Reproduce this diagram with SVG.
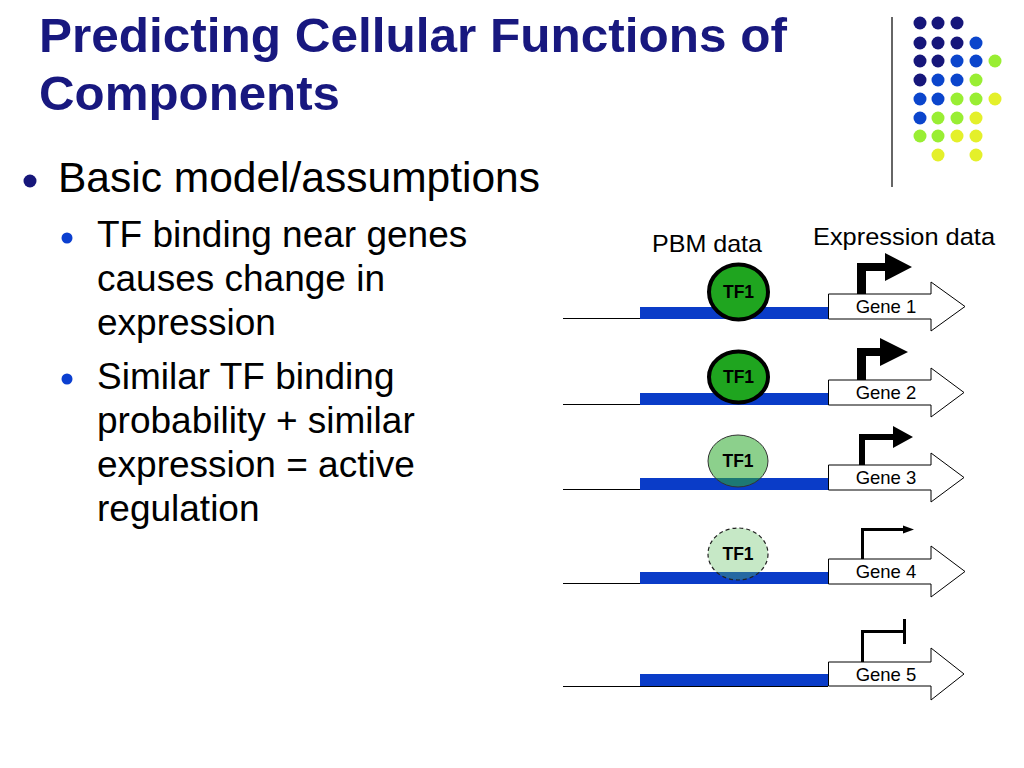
<svg xmlns="http://www.w3.org/2000/svg" width="1024" height="768" viewBox="0 0 1024 768">
<defs>
<style>
.title{font-family:"Liberation Sans",Arial,sans-serif;font-weight:bold;font-size:49px;fill:#18187F}
.body{font-family:"Liberation Sans",Arial,sans-serif;font-size:42px;fill:#000}
.sub{font-family:"Liberation Sans",Arial,sans-serif;font-size:37px;fill:#000}
.lbl{font-family:"Liberation Sans",Arial,sans-serif;font-size:24px;fill:#000}
.gene{font-family:"Liberation Sans",Arial,sans-serif;font-size:18.5px;fill:#000;text-anchor:middle}
.tf{font-family:"Liberation Sans",Arial,sans-serif;font-size:17.5px;font-weight:bold;fill:#000;text-anchor:middle}
.dna{stroke:#000;stroke-width:1}
.bar{fill:#0A3CC8}
.garrow{fill:#fff;stroke:#000;stroke-width:1}
.n{fill:#16167A}.b{fill:#0B45CC}.g{fill:#99EE33}.y{fill:#E4F02A}
</style>
</defs>
<rect width="1024" height="768" fill="#fff"/>

<!-- decoration -->
<line x1="892" y1="17" x2="892" y2="187" stroke="#333" stroke-width="1.5"/>
<g id="dots">
<circle class="n" cx="920" cy="23" r="6.5"/><circle class="n" cx="938" cy="23" r="6.5"/><circle class="n" cx="957" cy="23" r="6.5"/>
<circle class="n" cx="920" cy="43" r="6.5"/><circle class="n" cx="938" cy="43" r="6.5"/><circle class="n" cx="957" cy="43" r="6.5"/><circle class="b" cx="976" cy="43" r="6.5"/>
<circle class="n" cx="920" cy="61" r="6.5"/><circle class="n" cx="938" cy="61" r="6.5"/><circle class="b" cx="957" cy="61" r="6.5"/><circle class="b" cx="976" cy="61" r="6.5"/><circle class="g" cx="995" cy="61" r="6.5"/>
<circle class="n" cx="920" cy="80" r="6.5"/><circle class="b" cx="938" cy="80" r="6.5"/><circle class="b" cx="957" cy="80" r="6.5"/><circle class="g" cx="976" cy="80" r="6.5"/>
<circle class="b" cx="920" cy="99" r="6.5"/><circle class="b" cx="938" cy="99" r="6.5"/><circle class="g" cx="957" cy="99" r="6.5"/><circle class="g" cx="976" cy="99" r="6.5"/><circle class="y" cx="995" cy="99" r="6.5"/>
<circle class="b" cx="920" cy="118" r="6.5"/><circle class="g" cx="938" cy="118" r="6.5"/><circle class="g" cx="957" cy="118" r="6.5"/><circle class="y" cx="976" cy="118" r="6.5"/>
<circle class="g" cx="920" cy="136" r="6.5"/><circle class="g" cx="938" cy="136" r="6.5"/><circle class="y" cx="957" cy="136" r="6.5"/><circle class="y" cx="976" cy="136" r="6.5"/>
<circle class="y" cx="938" cy="155" r="6.5"/><circle class="y" cx="976" cy="155" r="6.5"/>
</g>

<!-- title -->
<g id="title">
<text class="title" x="39" y="52" textLength="748" lengthAdjust="spacingAndGlyphs">Predicting Cellular Functions of</text>
<text class="title" x="39" y="110" textLength="301" lengthAdjust="spacingAndGlyphs">Components</text>
</g>

<!-- bullets -->
<g id="bullets">
<circle cx="30" cy="181" r="6.5" fill="#16167A"/>
<text class="body" x="58" y="192" textLength="482" lengthAdjust="spacingAndGlyphs">Basic model/assumptions</text>
<circle cx="67" cy="238" r="5.5" fill="#0B3FD0"/>
<text class="sub" x="97" y="247">TF binding near genes</text>
<text class="sub" x="97" y="291">causes change in</text>
<text class="sub" x="97" y="335">expression</text>
<circle cx="67" cy="379" r="5.5" fill="#0B3FD0"/>
<text class="sub" x="97" y="389">Similar TF binding</text>
<text class="sub" x="97" y="433">probability + similar</text>
<text class="sub" x="97" y="477">expression = active</text>
<text class="sub" x="97" y="521">regulation</text>
</g>

<!-- column labels -->
<text class="lbl" x="652" y="252" textLength="110" lengthAdjust="spacingAndGlyphs">PBM data</text>
<text class="lbl" x="813" y="245" textLength="182" lengthAdjust="spacingAndGlyphs">Expression data</text>

<!-- row 1 -->
<g id="row1">
<line class="dna" x1="563" y1="318.5" x2="828" y2="318.5"/>
<rect class="bar" x="640" y="307" width="188" height="12"/>
<path class="garrow" d="M828.5,294 H931 V282 L965,306.5 L931,331 V319 H828.5 Z"/>
<text class="gene" x="886" y="313">Gene 1</text>
<path d="M857,294 V263 H885 V253 L912,267 L885,281 V271 H866 V294 Z" fill="#000"/>
<ellipse cx="738.5" cy="292" rx="29.5" ry="27.5" fill="#1FA51F" stroke="#000" stroke-width="4"/>
<text class="tf" x="738.5" y="298">TF1</text>
</g>

<!-- row 2 -->
<g id="row2">
<line class="dna" x1="563" y1="404.5" x2="828" y2="404.5"/>
<rect class="bar" x="640" y="393" width="188" height="12"/>
<path class="garrow" d="M828.5,380 H931 V368 L964,392.5 L931,417 V405 H828.5 Z"/>
<text class="gene" x="886" y="399">Gene 2</text>
<path d="M857,380 V348 H880 V338 L908,352 L880,366 V356 H866 V380 Z" fill="#000"/>
<ellipse cx="738.5" cy="377" rx="29.5" ry="25.5" fill="#1FA51F" stroke="#000" stroke-width="4"/>
<text class="tf" x="738.5" y="383">TF1</text>
</g>

<!-- row 3 -->
<g id="row3">
<line class="dna" x1="563" y1="489.5" x2="828" y2="489.5"/>
<rect class="bar" x="640" y="478" width="188" height="12"/>
<path class="garrow" d="M828.5,465 H931 V453 L964,477.5 L931,502 V490 H828.5 Z"/>
<text class="gene" x="886" y="484">Gene 3</text>
<path d="M859,465 V434 H893 V426 L913,437 L893,448 V440 H865 V465 Z" fill="#000"/>
<ellipse cx="738" cy="461" rx="30" ry="26" fill="#2EAA2E" fill-opacity="0.55" stroke="#333" stroke-width="1"/>
<text class="tf" x="738" y="467">TF1</text>
</g>

<!-- row 4 -->
<g id="row4">
<line class="dna" x1="563" y1="583.5" x2="828" y2="583.5"/>
<rect class="bar" x="640" y="572" width="188" height="12"/>
<path class="garrow" d="M828.5,559 H931 V546 L965,571.5 L931,597 V584 H828.5 Z"/>
<text class="gene" x="886" y="578">Gene 4</text>
<path d="M862.5,559 V529.5 H904" fill="none" stroke="#000" stroke-width="3"/>
<path d="M903,525.5 L914,529.5 L903,533.5 Z" fill="#000"/>
<ellipse cx="738" cy="554" rx="30" ry="26" fill="#5DBE5D" fill-opacity="0.35" stroke="#222" stroke-width="1.2" stroke-dasharray="4,3"/>
<text class="tf" x="738" y="560">TF1</text>
</g>

<!-- row 5 -->
<g id="row5">
<line class="dna" x1="563" y1="686.5" x2="828" y2="686.5"/>
<rect class="bar" x="640" y="674" width="188" height="12"/>
<path class="garrow" d="M828.5,662 H931 V648 L964,674 L931,700 V686 H828.5 Z"/>
<text class="gene" x="886" y="681">Gene 5</text>
<path d="M862.5,662 V631.5 H904" fill="none" stroke="#000" stroke-width="3"/>
<line x1="904.5" y1="619" x2="904.5" y2="644" stroke="#000" stroke-width="3"/>
</g>
</svg>
